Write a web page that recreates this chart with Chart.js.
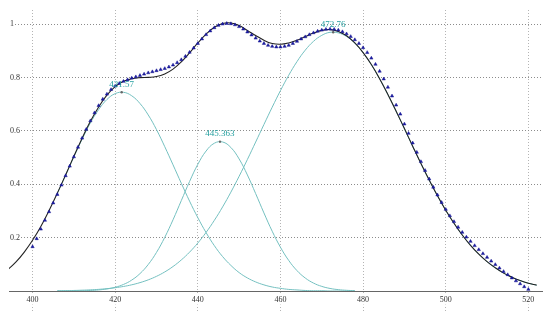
<!DOCTYPE html>
<html lang="en">
<head>
    <meta charset="UTF-8">
    <title>Peak fit</title>
    <script src="https://cdn.jsdelivr.net/npm/chart.js"></script>
    <style>
        body { margin: 0; background: #fff; }
    </style>
</head>
<body>
    <canvas id="chart" width="550" height="311"></canvas>

    <script>
        // wavelength grid (nm)
        const fitStart = 394;
        const compStart = 406;
        const dataStart = 400;
        const step = 2;

        // measured points, 400..520 nm, 1 nm apart
        const measured = [
            0.166, 0.196, 0.232, 0.265, 0.297, 0.330, 0.362, 0.397, 0.432, 0.468,
            0.503, 0.539, 0.573, 0.606, 0.638, 0.668, 0.695, 0.719, 0.738, 0.755,
            0.768, 0.778, 0.786, 0.792, 0.798, 0.803, 0.808, 0.813, 0.818, 0.822,
            0.826, 0.830, 0.834, 0.840, 0.847, 0.856, 0.867, 0.880, 0.895, 0.911,
            0.928, 0.945, 0.961, 0.975, 0.987, 0.996, 1.001, 1.003, 1.002, 0.998,
            0.991, 0.982, 0.971, 0.960, 0.948, 0.937, 0.928, 0.921, 0.917, 0.915,
            0.915, 0.917, 0.921, 0.928, 0.936, 0.945, 0.953, 0.961, 0.968, 0.974,
            0.978, 0.981, 0.982, 0.981, 0.978, 0.972, 0.964, 0.954, 0.942, 0.928,
            0.912, 0.894, 0.873, 0.850, 0.824, 0.795, 0.764, 0.731, 0.697, 0.663,
            0.626, 0.591, 0.555, 0.520, 0.485, 0.452, 0.420, 0.389, 0.360, 0.332,
            0.306, 0.282, 0.260, 0.239, 0.220, 0.202, 0.186, 0.170, 0.155, 0.140,
            0.126, 0.112, 0.099, 0.086, 0.073, 0.061, 0.049, 0.038, 0.027, 0.016,
            0.006
        ];

        // total fit, 394..522 nm every 2 nm
        const fitTotal = [
            0.080, 0.109, 0.146, 0.190, 0.242, 0.302, 0.367, 0.435, 0.505, 0.573,
            0.636, 0.690, 0.734, 0.766, 0.786, 0.796, 0.800, 0.801, 0.804, 0.814,
            0.832, 0.859, 0.893, 0.930, 0.963, 0.989, 1.003, 1.005, 0.995, 0.977,
            0.958, 0.940, 0.928, 0.925, 0.930, 0.940, 0.954, 0.967, 0.977, 0.980,
            0.973, 0.957, 0.930, 0.894, 0.849, 0.796, 0.737, 0.674, 0.609, 0.543,
            0.478, 0.416, 0.357, 0.303, 0.254, 0.210, 0.171, 0.138, 0.110, 0.087,
            0.067, 0.052, 0.039, 0.029, 0.022
        ];

        // components, from 406 nm every 2 nm
        const comp1 = [
            0.366, 0.434, 0.503, 0.569, 0.630, 0.680, 0.718, 0.740, 0.745, 0.732,
            0.703, 0.660, 0.605, 0.541, 0.473, 0.404, 0.337, 0.275, 0.219, 0.170,
            0.129, 0.096, 0.069, 0.049, 0.034, 0.023, 0.015, 0.010, 0.006, 0.004,
            0.002, 0.001, 0.001, 0, 0, 0, 0
        ];
        const comp2 = [
            0.0001, 0.0002, 0.0004, 0.0009, 0.002, 0.004, 0.0077, 0.014, 0.0245, 0.0409,
            0.0652, 0.0994, 0.1447, 0.2012, 0.2671, 0.3388, 0.4104, 0.4749, 0.5248, 0.5541,
            0.5587, 0.5381, 0.495, 0.435, 0.3651, 0.2927, 0.2241, 0.164, 0.1145, 0.0764,
            0.0487, 0.0297, 0.0173, 0.0096, 0.0051, 0.0026, 0.0012
        ];
        const comp3 = [
            0.0009, 0.0013, 0.002, 0.003, 0.0043, 0.0062, 0.0088, 0.0123, 0.017, 0.0232,
            0.0314, 0.0418, 0.055, 0.0715, 0.0918, 0.1164, 0.1456, 0.18, 0.2197, 0.2649,
            0.3153, 0.3706, 0.4302, 0.4931, 0.5584, 0.6242, 0.6891, 0.7513, 0.8089, 0.86,
            0.9029, 0.9361, 0.9585, 0.9699, 0.9677, 0.9542, 0.9291, 0.8934, 0.8484, 0.7955,
            0.7367, 0.6737, 0.6085, 0.5426, 0.4778, 0.4155, 0.357, 0.303, 0.2535, 0.2097,
            0.1713, 0.1381, 0.11, 0.0865, 0.0673, 0.0516, 0.0391, 0.0292, 0.0216
        ];

        const peakCenters = [421.57, 445.363, 472.76];
        const peakHeights = [0.745, 0.56, 0.97];
        const peakLabels = ['421.57', '445.363', '472.76'];

        const xTicks = [400, 420, 440, 460, 480, 500, 520];
        const yTicks = [0.2, 0.4, 0.6, 0.8, 1];
        const yTickLabels = ['0.2', '0.4', '0.6', '0.8', '1'];

        function toPoints(ys, x0, dx) {
            return ys.map((y, i) => ({x: x0 + i * dx, y: y}));
        }

        const teal = '#74c0c0';
        const serif = "'Liberation Serif', 'DejaVu Serif', serif";

        const peakLabelPlugin = {
            id: 'peakLabels',
            afterDatasetsDraw(chart) {
                const ctx = chart.ctx;
                const xs = chart.scales.x, ys = chart.scales.y;
                ctx.save();
                ctx.font = '9px ' + serif;
                ctx.fillStyle = '#26a0a0';
                ctx.textAlign = 'center';
                ctx.textBaseline = 'bottom';
                peakCenters.forEach((c, i) => {
                    ctx.fillText(peakLabels[i], xs.getPixelForValue(c), ys.getPixelForValue(peakHeights[i]) - 3);
                });
                ctx.restore();
            }
        };

        new Chart(document.getElementById('chart').getContext('2d'), {
            type: 'scatter',
            data: {
                datasets: [
                    {
                        data: peakCenters.map((c, i) => ({x: c, y: peakHeights[i]})),
                        pointRadius: 1.2, pointBackgroundColor: '#666', pointBorderWidth: 0,
                        showLine: false
                    },
                    {
                        data: toPoints(measured, dataStart, 1),
                        pointStyle: 'triangle', pointRadius: 1.9,
                        pointBackgroundColor: '#1c1ca6', pointBorderColor: '#14148c', pointBorderWidth: 0.5,
                        showLine: false
                    },
                    {
                        data: toPoints(fitTotal, fitStart, step),
                        showLine: true, borderColor: '#222', borderWidth: 1.1,
                        pointRadius: 0, tension: 0.4
                    },
                    {
                        data: toPoints(comp1, compStart, step),
                        showLine: true, borderColor: teal, borderWidth: 1,
                        pointRadius: 0, tension: 0.4
                    },
                    {
                        data: toPoints(comp2, compStart, step),
                        showLine: true, borderColor: teal, borderWidth: 1,
                        pointRadius: 0, tension: 0.4
                    },
                    {
                        data: toPoints(comp3, compStart, step),
                        showLine: true, borderColor: teal, borderWidth: 1,
                        pointRadius: 0, tension: 0.4
                    }
                ]
            },
            options: {
                responsive: false,
                animation: false,
                layout: { padding: { left: 0, right: 8, top: 10, bottom: 0 } },
                plugins: { legend: { display: false }, tooltip: { enabled: false } },
                scales: {
                    x: {
                        type: 'linear',
                        min: 394.3, max: 523.3,
                        afterBuildTicks: s => { s.ticks = xTicks.map(v => ({value: v})); },
                        afterFit: s => { s.height = 20; },
                        grid: { color: '#b4b4b4', tickLength: 20, tickColor: '#b4b4b4', tickBorderDash: [1, 2] },
                        border: { color: '#666', width: 1, dash: [1, 2] },
                        ticks: {
                            padding: -16, color: '#333', maxRotation: 0,
                            font: { family: serif, size: 8 },
                            showLabelBackdrop: true, backdropColor: '#fff', backdropPadding: 0
                        }
                    },
                    y: {
                        min: 0, max: 1.0535,
                        afterBuildTicks: s => { s.ticks = yTicks.map(v => ({value: v})); },
                        afterFit: s => { s.width = 9; },
                        grid: { color: '#8c8c8c', drawTicks: false },
                        border: { display: false, dash: [1, 2] },
                        ticks: {
                            mirror: true, padding: 1, color: '#333',
                            font: { family: serif, size: 8 },
                            callback: (v, i) => yTickLabels[i],
                            showLabelBackdrop: true, backdropColor: '#fff', backdropPadding: 1
                        }
                    }
                }
            },
            plugins: [peakLabelPlugin]
        });
    </script>
</body>
</html>
